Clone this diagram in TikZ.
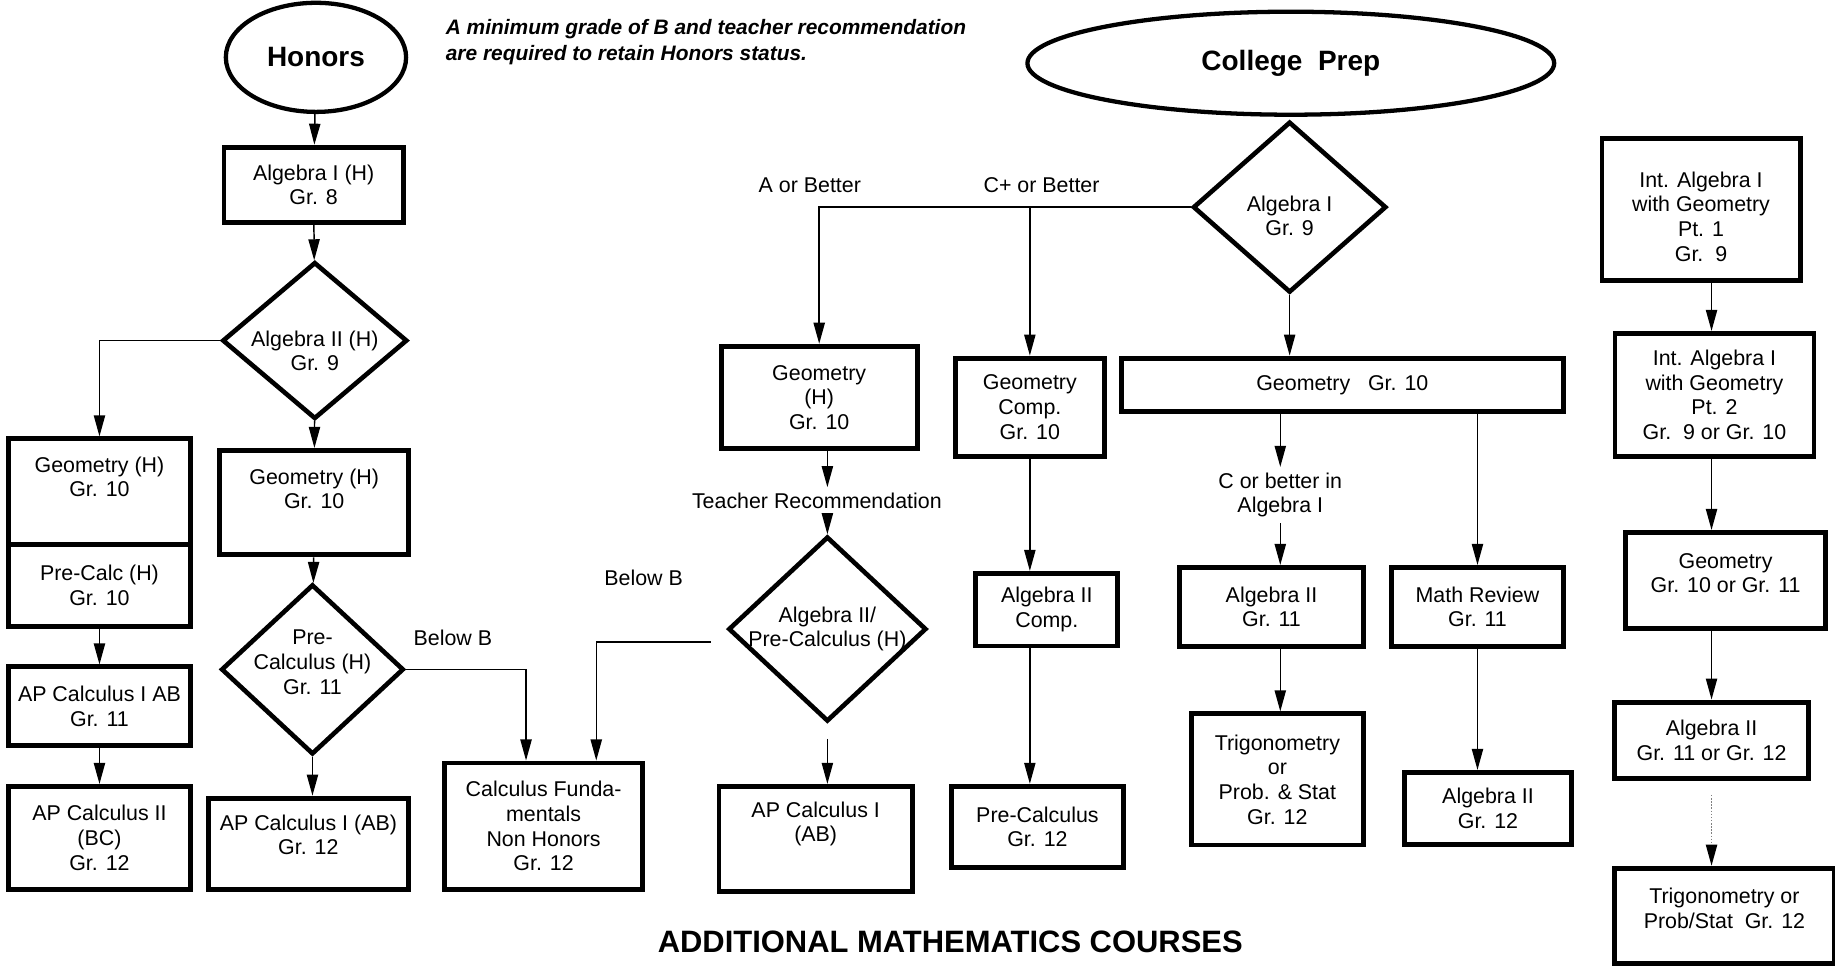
\documentclass[tikz,border=0pt]{standalone}
\usepackage{fontspec}
\setmainfont{Liberation Sans}
\usetikzlibrary{shapes.geometric,arrows.meta}
\newcommand{\zw}[1]{\makebox[0pt]{#1}}

\begin{document}
\begin{tikzpicture}[x=0.025cm, y=-0.025cm,
      font=\fontsize{13}{15}\selectfont,
      >={Triangle[length=4.5mm, width=2.4mm]},
      course/.style={draw, line width=3pt, align=center, inner sep=0pt},
      choice/.style={draw, diamond, line width=2.8pt, align=center, inner sep=0pt},
      track/.style={draw, ellipse, line width=2.6pt, inner sep=0pt,
                    font=\bfseries\fontsize{17}{20}\selectfont},
      tag/.style={align=center},
      link/.style={line width=0.9pt, ->}]
      \useasboundingbox (0, 0) rectangle (1568, 825);
      % honors track
      \node[track, minimum width=3.85cm, minimum height=2.33cm] (honors) at (270, 49) {Honors};
      \node[font=\bfseries\itshape\fontsize{12.7}{15.5}\selectfont, align=left, anchor=west] (note) at (376, 36)
            {A minimum grade of B and teacher recommendation\\are required to retain Honors status.};
      \node[course, minimum width=3.83cm, minimum height=1.61cm] (alg1h) at (268, 158) {Algebra I (H)\\Gr. 8};
      \node[choice, minimum width=3.95cm, minimum height=3.35cm, text height=37pt] (alg2h) at (269, 291)
            {\zw{Algebra II (H)}\\\zw{Gr. 9}};
      \node[course, minimum width=3.9cm, minimum height=2.25cm, text depth=18pt] (geoh) at (85, 420) {Geometry (H)\\Gr. 10};
      \node[course, minimum width=3.9cm, minimum height=1.75cm] (precalch) at (85, 500) {Pre-Calc (H)\\Gr. 10};
      \node[course, minimum width=3.9cm, minimum height=1.68cm] (apab) at (85, 603.5) {AP Calculus I AB\\Gr. 11};
      \node[course, minimum width=3.9cm, minimum height=2.2cm] (apbc) at (85, 716) {AP Calculus II\\(BC)\\Gr. 12};
      \node[course, minimum width=4.03cm, minimum height=2.23cm, text depth=17pt] (geohm) at (268.5, 429.5) {Geometry (H)\\Gr. 10};
      \node[choice, minimum width=3.9cm, minimum height=3.63cm, text depth=9pt] (precalcd) at (267, 572)
            {\zw{Pre-}\\\zw{Calculus (H)}\\\zw{Gr. 11}};
      \node[course, minimum width=4.28cm, minimum height=1.95cm, text depth=11pt] (apabh) at (263.5, 721) {AP Calculus I (AB)\\Gr. 12};
      \node[course, minimum width=4.23cm, minimum height=2.7cm] (calcfund) at (464.5, 706) {Calculus Funda-\\mentals\\Non Honors\\Gr. 12};
      \node[tag] (belowh) at (387, 545) {Below B};
      \node[tag] (belowc) at (550, 494) {Below B};
      % college prep track
      \node[track, minimum width=11.25cm, minimum height=2.2cm] (prep) at (1103, 54) {College~~Prep};
      \node[choice, minimum width=4.13cm, minimum height=3.65cm, text height=35pt] (alg1) at (1102, 177)
            {\zw{Algebra I}\\\zw{Gr. 9}};
      \node[tag] (abetter) at (692, 158) {A or Better};
      \node[tag] (cplus) at (890, 158) {C+ or Better};
      \node[course, minimum width=4.18cm, minimum height=2.18cm] (geohc) at (700, 339.5) {Geometry\\(H)\\Gr. 10};
      \node[tag] (teach) at (698, 428) {Teacher Recommendation};
      \node[choice, minimum width=4.23cm, minimum height=3.95cm] (algpcd) at (707, 537.5)
            {\zw{Algebra II/}\\\zw{Pre-Calculus (H)}};
      \node[course, minimum width=4.13cm, minimum height=2.25cm, text depth=21pt] (apcab) at (697, 717) {AP Calculus I\\(AB)};
      \node[course, minimum width=3.18cm, minimum height=2.1cm] (geocomp) at (880, 348) {Geometry\\Comp.\\Gr. 10};
      \node[course, minimum width=9.45cm, minimum height=1.15cm] (geo) at (1147, 329) {Geometry~~~Gr. 10};
      \node[tag] (cbetter) at (1094, 423) {C or better in\\Algebra I};
      \node[course, minimum width=3.03cm, minimum height=1.55cm] (alg2comp) at (894.5, 521) {Algebra II\\Comp.};
      \node[course, minimum width=3.68cm, minimum height=1.73cm] (precalc) at (886.5, 706.5) {Pre-Calculus\\Gr. 12};
      \node[course, minimum width=3.93cm, minimum height=1.68cm] (alg2) at (1086.5, 518.5) {Algebra II\\Gr. 11};
      \node[course, minimum width=3.68cm, minimum height=2.8cm] (trig) at (1091.5, 666) {Trigonometry\\or\\Prob. \& Stat\\Gr. 12};
      \node[course, minimum width=3.68cm, minimum height=1.68cm] (review) at (1262.5, 518.5) {Math Review\\Gr. 11};
      \node[course, minimum width=3.58cm, minimum height=1.55cm] (alg2b) at (1271.5, 691) {Algebra II\\Gr. 12};
      % integrated track
      \node[course, minimum width=4.23cm, minimum height=3.05cm, text height=63pt] (int1) at (1453.5, 179)
            {Int. Algebra I\\with Geometry\\Pt. 1\\Gr.~~9};
      \node[course, minimum width=4.25cm, minimum height=2.63cm] (int2) at (1465, 337.5)
            {Int. Algebra I\\with Geometry\\Pt. 2\\Gr.~~9 or Gr. 10};
      \node[course, minimum width=4.28cm, minimum height=2.05cm, text depth=9pt] (geoint) at (1474.5, 496) {Geometry\\Gr. 10 or Gr. 11};
      \node[course, minimum width=4.13cm, minimum height=1.63cm] (alg2int) at (1462.5, 632.5) {Algebra II\\Gr. 11 or Gr. 12};
      \node[course, minimum width=4.68cm, minimum height=2.03cm, text depth=9pt] (trigint) at (1473.5, 782.5)
            {Trigonometry or\\Prob/Stat~~Gr. 12};
      \node[font=\bfseries\fontsize{18.8}{22}\selectfont] (title) at (812, 805) {ADDITIONAL MATHEMATICS COURSES};
      % connectors
      \draw[link] (honors) edge (alg1h)
                  (alg1h) edge (alg2h)
                  (alg2h) edge (geohm)
                  (precalch) edge (apab)
                  (apab) edge (apbc)
                  (geohm) edge (precalcd);
      \draw[link] (alg2h.west) -| (geoh.north);
      \draw[link] (precalcd.south) -- (precalcd.south |- apabh.north);
      \draw[link] (precalcd.east) -| ([shift={(-15, 0)}]calcfund.north);
      \draw[link] ([shift={(-13, 11)}]algpcd.west) -| ([shift={(45, 0)}]calcfund.north);
      \draw[link] (alg1.west) -| (geohc.north);
      \draw[link] (alg1.west -| geocomp.north) -- (geocomp.north);
      \draw[link] (alg1.south) -- (alg1.south |- geo.north);
      \draw[link] (geohc.south -| algpcd.north) -- (teach.north -| algpcd.north);
      \draw[link] (teach.south -| algpcd.north) -- (algpcd.north);
      \draw[link, shorten <=0.32cm] (algpcd.south) -- (algpcd.south |- apcab.north);
      \draw[link] (geocomp.south) -- (geocomp.south |- alg2comp.north);
      \draw[link] (alg2comp.south -| geocomp.south) -- (precalc.north -| geocomp.south);
      \draw[link] (geo.south -| cbetter.north) -- (cbetter.north);
      \draw[link] (cbetter.south) -- (cbetter.south |- alg2.north);
      \draw[link] (alg2.south -| cbetter.south) -- (trig.north -| cbetter.south);
      \draw[link] (geo.south -| review.north) -- (review.north);
      \draw[link] (review.south) -- (review.south |- alg2b.north);
      \draw[link] (int1.south -| alg2int.north) -- (int2.north -| alg2int.north);
      \draw[link] (int2.south -| alg2int.north) -- (geoint.north -| alg2int.north);
      \draw[link] (geoint.south -| alg2int.north) -- (alg2int.north);
      \draw[line width=0.9pt, densely dotted, draw=gray, shorten <=0.3cm,
            -{Triangle[length=4.5mm, width=2.4mm, color=black]}] (alg2int.south) -- (trigint.north -| alg2int.south);
\end{tikzpicture}
\end{document}
